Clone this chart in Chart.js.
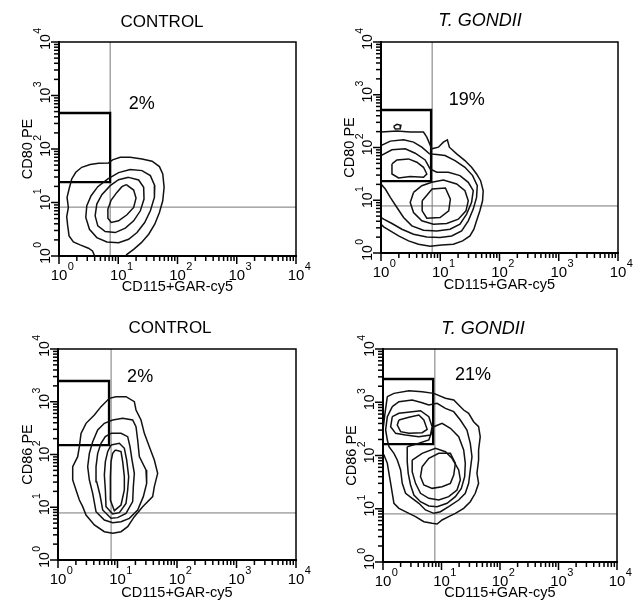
<!DOCTYPE html>
<html><head><meta charset="utf-8">
<script src="https://cdn.jsdelivr.net/npm/chart.js@4.4.1/dist/chart.umd.min.js"></script>
<style>
html,body{margin:0;padding:0;background:#fff;}
#wrap{position:relative;width:636px;height:603px;overflow:hidden;background:#fff}
canvas{position:absolute}
</style></head><body><div id="wrap">
<canvas id="c1" width="318" height="300" style="left:0;top:0"></canvas>
<canvas id="c2" width="318" height="300" style="left:318px;top:0"></canvas>
<canvas id="c3" width="318" height="303" style="left:0;top:300px"></canvas>
<canvas id="c4" width="318" height="303" style="left:318px;top:300px"></canvas>
</div>
<script>
// ---------------- DATA ----------------
const panelTitles = ['CONTROL', 'T. GONDII', 'CONTROL', 'T. GONDII'];
const yAxisTitles = ['CD80 PE', 'CD80 PE', 'CD86 PE', 'CD86 PE'];
const xAxisTitle = 'CD115+GAR-cy5';
const tickValues = [1, 10, 100, 1000, 10000];
const minorMultipliers = [2, 3, 4, 5, 6, 7, 8, 9];
const tickBase = '10';
const tickExponents = ['0', '1', '2', '3', '4'];
const gatePercents = ['2%', '19%', '2%', '21%'];
const gateXMax = [7.3, 7.0, 7.2, 7.2];
const gateYMin = [24, 23, 151, 164];
const gateYMax = [471, 514, 2474, 2735];
const quadX = [7.3, 7.3, 7.8, 7.7];
const quadY = [8.2, 7.8, 7.8, 8.0];

// contour points, in decades: [log10(CD115), log10(CD80/CD86)]
const cd80ControlOpen = [
  [[0.61,-0.02],[0.565,0.094],[0.497,0.145],[0.356,0.207],[0.243,0.263],[0.17,0.376],[0.147,0.563],[0.13,0.732],[0.158,0.907],[0.136,1.095],[0.17,1.252],[0.215,1.44],[0.283,1.565],[0.384,1.658],[0.525,1.709],[0.667,1.734],[0.836,1.74],[0.904,1.797],[1.034,1.846],[1.203,1.846],[1.401,1.815],[1.571,1.771],[1.695,1.671],[1.751,1.534],[1.774,1.283],[1.751,1.033],[1.695,0.813],[1.616,0.595],[1.514,0.407],[1.39,0.25],[1.26,0.125],[1.147,0.03],[1.107,-0.03]]
];
const cd80ControlClosed = [
  [[1.203,1.615],[1.401,1.596],[1.542,1.502],[1.616,1.315],[1.61,1.095],[1.542,0.845],[1.446,0.626],[1.317,0.438],[1.175,0.313],[1.006,0.25],[0.808,0.263],[0.638,0.344],[0.514,0.5],[0.452,0.72],[0.469,0.939],[0.542,1.127],[0.655,1.296],[0.825,1.44],[1.006,1.559]],
  [[1.175,1.47],[1.344,1.421],[1.429,1.283],[1.435,1.064],[1.373,0.845],[1.26,0.657],[1.119,0.52],[0.949,0.438],[0.78,0.457],[0.655,0.563],[0.61,0.751],[0.638,0.97],[0.723,1.146],[0.864,1.315],[1.006,1.427]],
  [[1.136,1.333],[1.26,1.233],[1.3,1.083],[1.26,0.907],[1.147,0.77],[1.006,0.657],[0.881,0.626],[0.825,0.707],[0.825,0.877],[0.881,1.045],[0.977,1.189],[1.062,1.296]]
];

const cd80GondiiOpen = [
  [[0,2.292],[0.269,2.311],[0.493,2.292],[0.717,2.292],[0.773,2.197],[0.857,1.975],[0.969,2.006],[1.053,2.102],[1.12,2.146],[1.154,2.006],[1.277,1.879],[1.417,1.752],[1.529,1.625],[1.613,1.498],[1.681,1.371],[1.725,1.181],[1.714,0.99],[1.669,0.8],[1.613,0.61],[1.568,0.451],[1.501,0.324],[1.378,0.229],[1.221,0.165],[1.025,0.152],[0.829,0.127],[0.633,0.165],[0.465,0.229],[0.297,0.324],[0.157,0.419],[0.045,0.495],[0,0.546]],
  [[0,2.038],[0.157,2.121],[0.381,2.146],[0.549,2.102],[0.689,2.006],[0.818,1.879],[0.941,1.867],[1.081,1.848],[1.249,1.752],[1.417,1.625],[1.546,1.467],[1.625,1.276],[1.613,1.054],[1.557,0.832],[1.473,0.61],[1.361,0.419],[1.193,0.324],[0.997,0.292],[0.773,0.305],[0.549,0.356],[0.353,0.451],[0.185,0.559],[0.045,0.641],[0,0.673]],
  [[0,1.848],[0.185,1.956],[0.409,1.975],[0.577,1.892],[0.745,1.765],[0.829,1.594],[0.941,1.53],[1.137,1.53],[1.333,1.467],[1.473,1.34],[1.557,1.181],[1.529,0.959],[1.445,0.737],[1.333,0.546],[1.165,0.451],[0.941,0.419],[0.717,0.432],[0.521,0.514],[0.381,0.673],[0.269,0.863],[0.157,1.054],[0.073,1.213],[0,1.308]]
];
const cd80GondiiClosed = [
  [[0.213,2.4],[0.269,2.438],[0.336,2.419],[0.325,2.356],[0.241,2.349]],
  [[0.185,1.689],[0.269,1.765],[0.465,1.784],[0.605,1.721],[0.717,1.625],[0.773,1.498],[0.717,1.435],[0.493,1.448],[0.297,1.422],[0.185,1.498]],
  [[0.549,1.149],[0.689,1.276],[0.857,1.34],[1.053,1.384],[1.277,1.308],[1.417,1.181],[1.473,0.99],[1.434,0.8],[1.305,0.641],[1.109,0.559],[0.885,0.546],[0.689,0.61],[0.549,0.768],[0.493,0.959]],
  [[0.695,0.99],[0.863,1.213],[1.087,1.232],[1.171,1.022],[1.143,0.8],[0.997,0.673],[0.773,0.66],[0.695,0.8]]
];

const cd86ControlOpen = [];
const cd86ControlClosed = [
  [[0.975,3.096],[1.143,3.096],[1.283,3.002],[1.311,2.844],[1.395,2.654],[1.451,2.401],[1.535,2.148],[1.619,1.896],[1.675,1.643],[1.619,1.39],[1.591,1.201],[1.423,1.011],[1.283,0.821],[1.171,0.632],[1.059,0.537],[0.919,0.506],[0.779,0.537],[0.611,0.664],[0.471,0.853],[0.415,1.011],[0.359,1.137],[0.303,1.327],[0.247,1.517],[0.247,1.769],[0.331,1.959],[0.359,2.148],[0.387,2.401],[0.471,2.591],[0.611,2.749],[0.723,2.907],[0.863,3.065]],
  [[0.919,2.654],[1.087,2.686],[1.255,2.654],[1.311,2.528],[1.339,2.275],[1.367,1.959],[1.479,1.706],[1.49,1.453],[1.434,1.201],[1.339,0.948],[1.199,0.79],[1.059,0.727],[0.919,0.708],[0.779,0.758],[0.639,0.916],[0.583,1.264],[0.527,1.517],[0.499,1.769],[0.527,2.022],[0.583,2.243],[0.667,2.464],[0.779,2.591]],
  [[0.891,2.401],[1.059,2.401],[1.171,2.338],[1.21,2.148],[1.244,1.896],[1.283,1.643],[1.266,1.39],[1.255,1.106],[1.143,0.885],[1.003,0.803],[0.891,0.79],[0.751,0.948],[0.706,1.232],[0.65,1.485],[0.639,1.769],[0.667,2.022],[0.723,2.212],[0.795,2.338]],
  [[0.891,2.18],[1.031,2.212],[1.115,2.117],[1.154,1.896],[1.188,1.58],[1.171,1.327],[1.143,1.074],[1.031,0.897],[0.919,0.872],[0.807,1.011],[0.796,1.327],[0.779,1.611],[0.796,1.864],[0.835,2.054]],
  [[0.964,2.085],[1.059,2.054],[1.087,1.864],[1.115,1.58],[1.115,1.327],[1.059,1.043],[0.947,0.935],[0.88,1.137],[0.88,1.58],[0.891,1.864],[0.919,2.022]]
];

const cd86GondiiOpen = [];
const cd86GondiiClosed = [
  [[0.074,3.105],[0.187,3.167],[0.443,3.218],[0.669,3.199],[0.868,3.167],[1.067,3.074],[1.209,3.042],[1.294,2.948],[1.379,2.854],[1.464,2.792],[1.549,2.635],[1.634,2.541],[1.662,2.354],[1.634,2.103],[1.634,1.915],[1.606,1.665],[1.634,1.477],[1.577,1.29],[1.492,1.133],[1.379,1.008],[1.237,0.914],[1.123,0.851],[1.01,0.789],[0.925,0.714],[0.84,0.726],[0.698,0.757],[0.556,0.851],[0.443,0.914],[0.272,1.008],[0.187,1.102],[0.159,1.29],[0.131,1.477],[0.102,1.665],[0.074,1.853],[0.017,2.009],[0,2.166],[0,2.479],[0.034,2.792]],
  [[0.159,2.917],[0.272,3.011],[0.499,3.042],[0.669,2.992],[0.783,2.948],[0.925,2.98],[1.067,2.886],[1.209,2.823],[1.322,2.667],[1.435,2.479],[1.492,2.229],[1.521,1.978],[1.492,1.728],[1.464,1.477],[1.407,1.29],[1.294,1.164],[1.123,1.039],[0.982,0.945],[0.868,0.914],[0.726,0.977],[0.613,1.102],[0.499,1.196],[0.386,1.29],[0.329,1.477],[0.301,1.728],[0.244,1.915],[0.187,2.041],[0.102,2.166],[0.074,2.291],[0.045,2.479],[0.074,2.729]],
  [[0.414,2.166],[0.613,2.229],[0.783,2.291],[0.868,2.541],[1.01,2.604],[1.152,2.51],[1.294,2.354],[1.379,2.103],[1.407,1.853],[1.396,1.602],[1.339,1.383],[1.237,1.227],[1.095,1.102],[0.925,1.039],[0.783,1.052],[0.641,1.133],[0.528,1.258],[0.471,1.446],[0.431,1.665],[0.414,1.884]],
  [[0.159,2.729],[0.272,2.792],[0.499,2.823],[0.641,2.842],[0.783,2.729],[0.84,2.541],[0.811,2.385],[0.613,2.354],[0.386,2.385],[0.216,2.416],[0.131,2.541]],
  [[0.272,2.667],[0.443,2.717],[0.613,2.761],[0.698,2.667],[0.755,2.491],[0.669,2.429],[0.443,2.416],[0.301,2.448],[0.244,2.573]],
  [[0.499,1.915],[0.669,2.041],[0.896,2.135],[1.067,2.072],[1.18,1.947],[1.294,1.728],[1.322,1.54],[1.265,1.352],[1.123,1.227],[0.953,1.164],[0.783,1.196],[0.641,1.29],[0.556,1.477],[0.499,1.696]],
  [[0.669,1.79],[0.783,1.947],[0.953,2.041],[1.152,2.041],[1.237,1.853],[1.209,1.634],[1.152,1.477],[1.01,1.415],[0.84,1.383],[0.698,1.446],[0.641,1.602]]
];

const openContours = [cd80ControlOpen, cd80GondiiOpen, cd86ControlOpen, cd86GondiiOpen];
const closedContours = [cd80ControlClosed, cd80GondiiClosed, cd86ControlClosed, cd86GondiiClosed];

// ---------------- LAYOUT ----------------
const FONT = '"Liberation Sans", Arial, Helvetica, sans-serif';
const panelLayout = [
  {id:'c1', w:318, h:300, L:59, R:296, T:42, B:256, titleX:162, titleY:22, italic:false, titleSize:17, labelAt:[25,694],   xTitleDy:35, yTitleDx:27},
  {id:'c2', w:318, h:300, L:63, R:300, T:42, B:253, titleX:162, titleY:21, italic:true,  titleSize:18, labelAt:[28,795],   xTitleDy:36, yTitleDx:27},
  {id:'c3', w:318, h:303, L:58, R:296, T:49, B:260, titleX:170, titleY:28, italic:false, titleSize:17, labelAt:[24,2946],  xTitleDy:37, yTitleDx:26},
  {id:'c4', w:318, h:303, L:65, R:299, T:49, B:262, titleX:165, titleY:29, italic:true,  titleSize:18, labelAt:[34.5,3250], xTitleDy:35, yTitleDx:27}
];

function toPoints(ring, close) {
  const pts = ring.map(p => ({x: Math.pow(10, p[0]), y: Math.pow(10, p[1])}));
  if (close) pts.push(pts[0]);
  return pts;
}

function strokeSeg(ctx, x1, y1, x2, y2) {
  ctx.beginPath();
  ctx.moveTo(x1, y1);
  ctx.lineTo(x2, y2);
  ctx.stroke();
}

const decor = {
  id: 'decor',
  afterDraw(chart, args, o) {
    const ctx = chart.ctx, a = chart.chartArea, xs = chart.scales.x, ys = chart.scales.y;
    const i = o.idx, lay = panelLayout[i];
    ctx.save();
    ctx.setLineDash([]);
    ctx.globalAlpha = 1;
    ctx.strokeStyle = '#000000';
    ctx.fillStyle = '#000000';
    ctx.lineWidth = 1.5;
    ctx.strokeRect(a.left, a.top, a.right - a.left, a.bottom - a.top);
    // minor ticks, outside the frame
    ctx.lineWidth = 1.5;
    for (let d = 0; d < tickValues.length - 1; d++) {
      for (let m = 0; m < minorMultipliers.length; m++) {
        const v = tickValues[d] * minorMultipliers[m];
        const px = xs.getPixelForValue(v);
        const py = ys.getPixelForValue(v);
        strokeSeg(ctx, px, a.bottom, px, a.bottom + 5);
        strokeSeg(ctx, a.left - 5, py, a.left, py);
      }
    }
    tickValues.forEach((v, k) => {
      const px = xs.getPixelForValue(v), py = ys.getPixelForValue(v);
      // major ticks
      ctx.lineWidth = 1.5;
      strokeSeg(ctx, px, a.bottom, px, a.bottom + 8);
      strokeSeg(ctx, a.left - 8, py, a.left, py);
      // x tick label
      ctx.font = '15px ' + FONT;
      ctx.textAlign = 'center'; ctx.textBaseline = 'alphabetic';
      ctx.fillText(tickBase, px, a.bottom + 24);
      const w = ctx.measureText(tickBase).width;
      ctx.font = '11px ' + FONT; ctx.textAlign = 'left';
      ctx.fillText(tickExponents[k], px + w / 2 + 0.5, a.bottom + 14);
      // y tick label (rotated)
      ctx.save();
      ctx.translate(a.left - 9, py);
      ctx.rotate(-Math.PI / 2);
      ctx.font = '14px ' + FONT; ctx.textAlign = 'center';
      ctx.fillText(tickBase, 0, 0);
      const w2 = ctx.measureText(tickBase).width;
      ctx.font = '10.5px ' + FONT; ctx.textAlign = 'left';
      ctx.fillText(tickExponents[k], w2 / 2 + 0.5, -9);
      ctx.restore();
    });
    // x axis title
    ctx.font = '14.5px ' + FONT; ctx.textAlign = 'center'; ctx.textBaseline = 'alphabetic';
    ctx.fillText(xAxisTitle, (a.left + a.right) / 2, a.bottom + lay.xTitleDy);
    // y axis title
    ctx.save();
    ctx.translate(a.left - lay.yTitleDx, (a.top + a.bottom) / 2);
    ctx.rotate(-Math.PI / 2);
    ctx.fillText(yAxisTitles[i], 0, 0);
    ctx.restore();
    // panel title
    ctx.font = (lay.italic ? 'italic ' : '') + lay.titleSize + 'px ' + FONT;
    ctx.textBaseline = 'middle';
    ctx.fillText(panelTitles[i], lay.titleX, lay.titleY);
    // gate percentage
    ctx.font = '18px ' + FONT;
    ctx.fillText(gatePercents[i], xs.getPixelForValue(lay.labelAt[0]), ys.getPixelForValue(lay.labelAt[1]));
    ctx.restore();
  }
};

panelLayout.forEach((lay, i) => {
  const datasets = [];
  const contourStyle = {showLine: true, pointRadius: 0, borderColor: '#111', borderWidth: 1.5, fill: false, tension: 0};
  openContours[i].forEach(r => datasets.push(Object.assign({data: toPoints(r, false)}, contourStyle)));
  closedContours[i].forEach(r => datasets.push(Object.assign({data: toPoints(r, true)}, contourStyle)));
  // gate rectangle
  datasets.push({showLine: true, pointRadius: 0, borderColor: '#000', borderWidth: 2.3, fill: false,
    data: [{x: 1, y: gateYMin[i]}, {x: gateXMax[i], y: gateYMin[i]}, {x: gateXMax[i], y: gateYMax[i]}, {x: 1, y: gateYMax[i]}]});
  // quadrant lines
  datasets.push({showLine: true, pointRadius: 0, borderColor: '#777', borderWidth: 1, fill: false,
    data: [{x: quadX[i], y: 1}, {x: quadX[i], y: 10000}]});
  datasets.push({showLine: true, pointRadius: 0, borderColor: '#777', borderWidth: 1, fill: false,
    data: [{x: 1, y: quadY[i]}, {x: 10000, y: quadY[i]}]});

  const axisCommon = {
    type: 'logarithmic', min: 1, max: 10000,
    ticks: {display: false, autoSkip: false},
    grid: {display: false},
    border: {display: true, color: '#000', width: 2}
  };
  new Chart(document.getElementById(lay.id), {
    type: 'scatter',
    data: {datasets},
    options: {
      responsive: false, animation: false, events: [],
      layout: {padding: {left: 0, right: lay.w - lay.R, top: lay.T, bottom: 0}},
      plugins: {legend: {display: false}, tooltip: {enabled: false}, decor: {idx: i}},
      scales: {
        x: Object.assign({}, axisCommon, {position: 'bottom', afterFit(s) { s.height = lay.h - lay.B; }}),
        y: Object.assign({}, axisCommon, {position: 'left', afterFit(s) { s.width = lay.L; }})
      }
    },
    plugins: [decor]
  });
});
</script>
</body></html>
